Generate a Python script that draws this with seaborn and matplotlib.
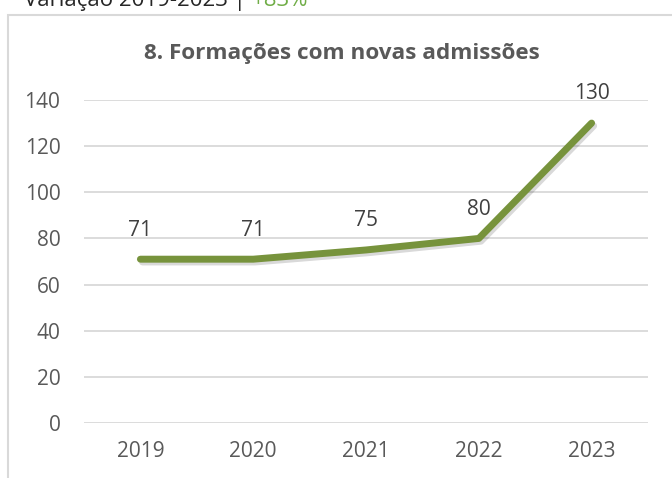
import matplotlib
matplotlib.use("Agg")
import matplotlib.pyplot as plt
import matplotlib.patheffects as pe
import seaborn as sns
import pandas as pd
from matplotlib.patches import Rectangle

# Dados
anos = ["2019", "2020", "2021", "2022", "2023"]
formacoes = [71, 71, 75, 80, 130]
titulo = "8. Formações com novas admissões"
variacao_txt = "Variação 2019-2023 | "
variacao_val = "+83%"

VERDE = "#77933C"
VERDE_CLARO = "#70AD47"
CINZA_TXT = "#595959"
CINZA_GRID = "#D9D9D9"
FS = 15


def main():
    sns.set_style("white")
    plt.rcParams["font.family"] = ["Open Sans", "DejaVu Sans"]

    df = pd.DataFrame({"ano": anos, "valor": formacoes})

    fig = plt.figure(figsize=(6.72, 4.78), dpi=100)
    # Moldura do gráfico (cortada pela imagem à direita e em baixo)
    fig.patches.append(Rectangle((7.5 / 672, -0.2), 1.2, 1 - 15 / 478 + 0.2,
                                 transform=fig.transFigure, fill=False,
                                 edgecolor=CINZA_GRID, linewidth=1.5))

    ax = fig.add_axes([84 / 672, 1 - 423 / 478, 564 / 672, 323 / 478])
    sns.lineplot(data=df, x="ano", y="valor", ax=ax, color=VERDE,
                 linewidth=5, solid_capstyle="round", solid_joinstyle="round",
                 sort=False,
                 path_effects=[pe.SimpleLineShadow(offset=(1.5, -2), alpha=0.15,
                                                   shadow_color="black"),
                               pe.Normal()])

    ax.set_xlim(-0.5, len(anos) - 0.5)
    ax.set_ylim(0, 140)
    ax.set_yticks(range(0, 141, 20))
    ax.grid(axis="y", color=CINZA_GRID, linewidth=1.3)
    ax.set_axisbelow(True)
    for s in ax.spines.values():
        s.set_visible(False)
    ax.set_xlabel("")
    ax.set_ylabel("")
    ax.tick_params(axis="both", length=0, labelsize=FS, labelcolor=CINZA_TXT)
    ax.tick_params(axis="y", pad=17)
    ax.tick_params(axis="x", pad=13)

    # Rótulos dos valores
    for i, v in enumerate(formacoes):
        ax.annotate(str(v), (i, v), xytext=(0, 17), textcoords="offset points",
                    ha="center", va="baseline", fontsize=FS, color="#404040")

    fig.text(341.5 / 672, 1 - 53 / 478, titulo, ha="center",
             va="center", fontsize=16.2, fontweight="bold", color=CINZA_TXT)

    # Texto superior cortado
    t = fig.text(24 / 672, 1 - 6 / 478, variacao_txt, ha="left", va="baseline",
                 fontsize=16, color="#262626")
    fig.canvas.draw()
    bb = t.get_window_extent()
    fig.text(bb.x1 / fig.bbox.width, 1 - 6 / 478, variacao_val, ha="left",
             va="baseline", fontsize=16, color=VERDE_CLARO)

    fig.savefig("out.png", dpi=100)
    plt.close(fig)


if __name__ == "__main__":
    main()
